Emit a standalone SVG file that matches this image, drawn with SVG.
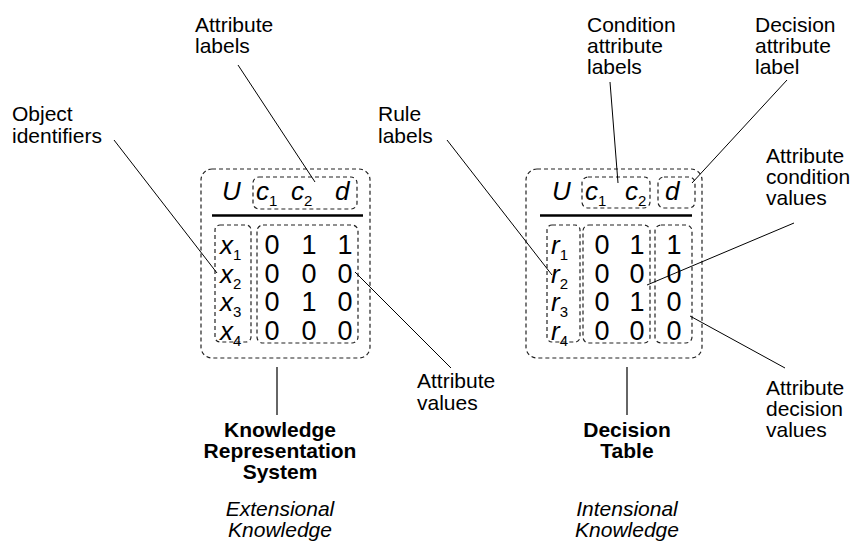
<svg xmlns="http://www.w3.org/2000/svg" width="855" height="541" viewBox="0 0 855 541">
<style>
.lbl{font-family:"Liberation Sans",Arial,sans-serif;font-size:21px;fill:#000}
.bold{font-weight:bold;text-anchor:middle}
.ital{font-style:italic;text-anchor:middle}
.hdr{font-family:"Liberation Sans",Arial,sans-serif;font-size:26px;font-style:italic;fill:#000}
.num{font-family:"Liberation Sans",Arial,sans-serif;font-size:27px;fill:#000;text-anchor:middle}
.sub{font-size:15px;font-style:normal}
.dash{fill:none;stroke:#222;stroke-width:1.2;stroke-dasharray:4 3}
.rule{stroke:#000;stroke-width:2.5}
.conn{stroke:#000;stroke-width:1;fill:none}
.vline{stroke:#333;stroke-width:1.5;fill:none}
</style>
<rect width="855" height="541" fill="#fff"/>

<g id="krs-table">
<rect class="dash" x="201" y="169" width="169" height="189" rx="11"/>
<rect class="dash" x="253" y="177" width="104" height="32" rx="6"/>
<rect class="dash" x="215" y="225" width="36" height="117" rx="5"/>
<rect class="dash" x="257" y="225" width="101" height="118" rx="6"/>
<line class="rule" x1="212" y1="215.5" x2="363" y2="215.5"/>
<text class="hdr" x="222" y="200">U</text>
<text class="hdr" x="256" y="200">c<tspan class="sub" dy="6">1</tspan></text>
<text class="hdr" x="291" y="200">c<tspan class="sub" dy="6">2</tspan></text>
<text class="hdr" x="335" y="200">d</text>
<text class="hdr" x="220" y="254">x<tspan class="sub" dy="6">1</tspan></text>
<text class="hdr" x="220" y="282.5">x<tspan class="sub" dy="6">2</tspan></text>
<text class="hdr" x="220" y="311">x<tspan class="sub" dy="6">3</tspan></text>
<text class="hdr" x="220" y="339.5">x<tspan class="sub" dy="6">4</tspan></text>
<text class="num" x="272" y="254">0</text><text class="num" x="309" y="254">1</text><text class="num" x="345" y="254">1</text>
<text class="num" x="272" y="282.5">0</text><text class="num" x="309" y="282.5">0</text><text class="num" x="345" y="282.5">0</text>
<text class="num" x="272" y="311">0</text><text class="num" x="309" y="311">1</text><text class="num" x="345" y="311">0</text>
<text class="num" x="272" y="339.5">0</text><text class="num" x="309" y="339.5">0</text><text class="num" x="345" y="339.5">0</text>
</g>

<g id="dt-table">
<rect class="dash" x="526" y="169" width="176" height="189" rx="11"/>
<rect class="dash" x="582" y="177" width="68" height="31" rx="6"/>
<rect class="dash" x="658" y="177" width="37" height="31" rx="6"/>
<rect class="dash" x="547" y="225" width="33" height="117" rx="5"/>
<rect class="dash" x="583" y="225" width="67" height="118" rx="6"/>
<rect class="dash" x="655" y="225" width="37" height="118" rx="6"/>
<line class="rule" x1="540" y1="215.5" x2="692" y2="215.5"/>
<text class="hdr" x="552" y="200">U</text>
<text class="hdr" x="585" y="200">c<tspan class="sub" dy="6">1</tspan></text>
<text class="hdr" x="625" y="200">c<tspan class="sub" dy="6">2</tspan></text>
<text class="hdr" x="665" y="200">d</text>
<text class="hdr" x="551" y="254">r<tspan class="sub" dy="6">1</tspan></text>
<text class="hdr" x="551" y="282.5">r<tspan class="sub" dy="6">2</tspan></text>
<text class="hdr" x="551" y="311">r<tspan class="sub" dy="6">3</tspan></text>
<text class="hdr" x="551" y="339.5">r<tspan class="sub" dy="6">4</tspan></text>
<text class="num" x="602" y="254">0</text><text class="num" x="637" y="254">1</text><text class="num" x="674" y="254">1</text>
<text class="num" x="602" y="282.5">0</text><text class="num" x="637" y="282.5">0</text><text class="num" x="674" y="282.5">0</text>
<text class="num" x="602" y="311">0</text><text class="num" x="637" y="311">1</text><text class="num" x="674" y="311">0</text>
<text class="num" x="602" y="339.5">0</text><text class="num" x="637" y="339.5">0</text><text class="num" x="674" y="339.5">0</text>
</g>

<g id="label-attribute-labels"><text class="lbl" x="195" y="32">Attribute<tspan x="195" dy="21">labels</tspan></text></g>
<g id="label-object-identifiers"><text class="lbl" x="12" y="121">Object<tspan x="12" dy="22">identifiers</tspan></text></g>
<g id="label-attribute-values"><text class="lbl" x="417" y="388">Attribute<tspan x="417" dy="22">values</tspan></text></g>
<g id="label-krs"><text class="lbl bold" x="280" y="437">Knowledge<tspan x="280" dy="21">Representation</tspan><tspan x="280" dy="21">System</tspan></text></g>
<g id="label-extensional"><text class="lbl ital" x="280" y="516">Extensional<tspan x="280" dy="21">Knowledge</tspan></text></g>

<g id="label-rule-labels"><text class="lbl" x="378" y="121">Rule<tspan x="378" dy="22">labels</tspan></text></g>
<g id="label-condition-attribute-labels"><text class="lbl" x="587" y="32">Condition<tspan x="587" dy="21">attribute</tspan><tspan x="587" dy="21">labels</tspan></text></g>
<g id="label-decision-attribute-label"><text class="lbl" x="755" y="32">Decision<tspan x="755" dy="21">attribute</tspan><tspan x="755" dy="21">label</tspan></text></g>
<g id="label-attribute-condition-values"><text class="lbl" x="766" y="163">Attribute<tspan x="766" dy="21">condition</tspan><tspan x="766" dy="21">values</tspan></text></g>
<g id="label-attribute-decision-values"><text class="lbl" x="766" y="395">Attribute<tspan x="766" dy="21">decision</tspan><tspan x="766" dy="21">values</tspan></text></g>
<g id="label-decision-table"><text class="lbl bold" x="627" y="437">Decision<tspan x="627" dy="21">Table</tspan></text></g>
<g id="label-intensional"><text class="lbl ital" x="627" y="516">Intensional<tspan x="627" dy="21">Knowledge</tspan></text></g>

<g id="connectors">
<line class="conn" x1="238" y1="65" x2="315" y2="182"/>
<line class="conn" x1="114" y1="140" x2="217" y2="273"/>
<line class="conn" x1="355" y1="272" x2="451" y2="368"/>
<line class="vline" x1="277" y1="367" x2="277" y2="415"/>
<line class="conn" x1="447" y1="140" x2="552" y2="275"/>
<line class="conn" x1="610" y1="82" x2="618" y2="183"/>
<line class="conn" x1="787" y1="80" x2="692" y2="183"/>
<line class="conn" x1="794" y1="223" x2="647" y2="285"/>
<line class="conn" x1="690" y1="316" x2="785" y2="368"/>
<line class="vline" x1="627" y1="367" x2="627" y2="415"/>
</g>
</svg>
